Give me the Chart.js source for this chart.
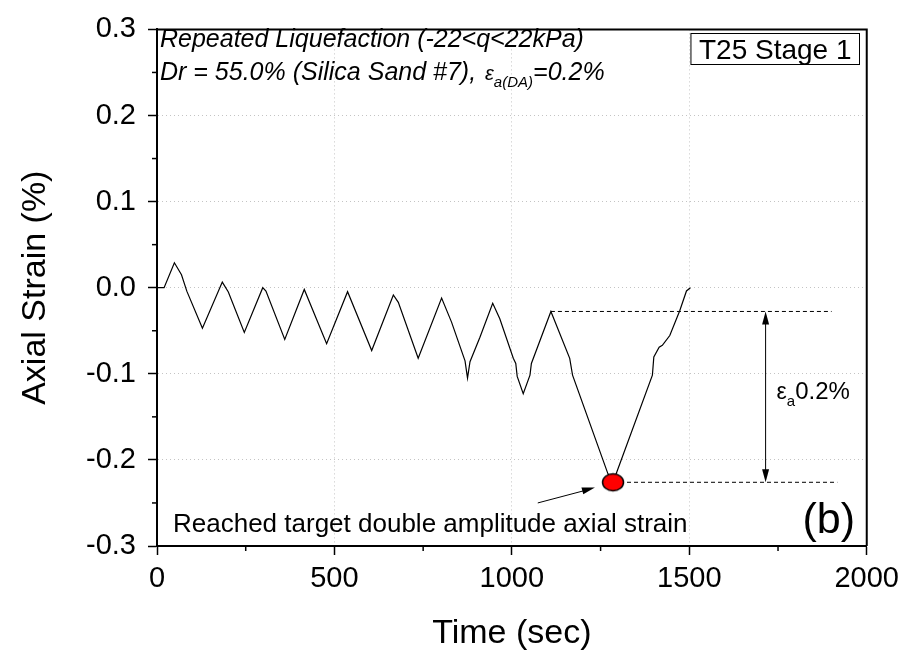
<!DOCTYPE html>
<html>
<head>
<meta charset="utf-8">
<title>Axial strain vs time</title>
<script src="https://cdn.jsdelivr.net/npm/chart.js@4.4.1/dist/chart.umd.min.js"></script>
<style>
    html, body { margin: 0; padding: 0; background: #ffffff; }
    #wrap { width: 906px; height: 654px; }
</style>
</head>
<body>
<div id="wrap"><canvas id="strainChart" width="906" height="654"></canvas></div>
<script>
// Axial strain record (time in sec, strain in %)
const timeSec = [0, 20, 49, 69, 84, 128, 184, 201, 246, 298, 307, 360, 415, 478, 537, 605,
    666, 680, 736, 802, 830, 868, 875, 882, 910, 946, 966, 1004, 1011, 1015, 1032, 1051,
    1055, 1110, 1163, 1171, 1271, 1285, 1297, 1396, 1400, 1415, 1424, 1445, 1473, 1492, 1503];
const axialStrain = [0, 0, 0.029, 0.015, -0.004, -0.047, 0.0065, -0.005, -0.052, 0.0, -0.004, -0.060,
    -0.002, -0.065, -0.0046, -0.073, -0.0084, -0.017, -0.082, -0.012, -0.040, -0.085, -0.105, -0.086,
    -0.0575, -0.018, -0.036, -0.082, -0.088, -0.103, -0.123, -0.1015, -0.088, -0.0276, -0.082, -0.1015,
    -0.2165, -0.226, -0.2126, -0.1015, -0.0805, -0.069, -0.067, -0.0556, -0.0268, -0.0038, 0.0];

// target point and the two dashed reference levels
const targetPoint = [1285, -0.226];
const upperRefX = [1110, 1901];
const upperRefY = -0.0276;
const lowerRefX = [1285, 1917];
const lowerRefY = -0.226;
const spanArrowX = 1715;
const noteArrowFrom = [1073, -0.250];
const noteArrowTo = [1234, -0.232];

const xTicks = [0, 500, 1000, 1500, 2000];
const yTicks = [-0.3, -0.2, -0.1, 0.0, 0.1, 0.2, 0.3];
const xMinorTicks = [250, 750, 1250, 1750];
const yMinorTicks = [-0.25, -0.15, -0.05, 0.05, 0.15, 0.25];

const FONT = '"Liberation Sans", Arial, sans-serif';
Chart.defaults.font.family = FONT;
Chart.defaults.color = '#000';

// red elliptical marker
function makeDot() {
    const c = document.createElement('canvas');
    c.width = 26; c.height = 22;
    const g = c.getContext('2d');
    g.beginPath();
    g.ellipse(13, 11, 10.5, 8.5, 0, 0, Math.PI * 2);
    g.fillStyle = '#ff0000';
    g.fill();
    g.lineWidth = 1.5;
    g.strokeStyle = '#000';
    g.stroke();
    return c;
}

function arrowHead(ctx, x0, y0, x1, y1, len, half) {
    const a = Math.atan2(y1 - y0, x1 - x0);
    ctx.beginPath();
    ctx.moveTo(x1, y1);
    ctx.lineTo(x1 - len * Math.cos(a) + half * Math.sin(a), y1 - len * Math.sin(a) - half * Math.cos(a));
    ctx.lineTo(x1 - len * Math.cos(a) - half * Math.sin(a), y1 - len * Math.sin(a) + half * Math.cos(a));
    ctx.closePath();
    ctx.fill();
}

const decorations = {
    id: 'decorations',
    afterDraw(chart) {
        const ctx = chart.ctx;
        const xs = chart.scales.x, ys = chart.scales.y;
        const area = chart.chartArea;
        ctx.save();
        ctx.strokeStyle = '#000';
        ctx.fillStyle = '#000';

        // frame top / right
        ctx.lineWidth = 2;
        ctx.beginPath();
        ctx.moveTo(area.left, area.top);
        ctx.lineTo(area.right, area.top);
        ctx.lineTo(area.right, area.bottom);
        ctx.stroke();

        // minor ticks
        ctx.lineWidth = 1.5;
        xMinorTicks.forEach(function(v) {
            const px = xs.getPixelForValue(v);
            ctx.beginPath();
            ctx.moveTo(px, area.bottom);
            ctx.lineTo(px, area.bottom + 5);
            ctx.stroke();
        });
        yMinorTicks.forEach(function(v) {
            const py = ys.getPixelForValue(v);
            ctx.beginPath();
            ctx.moveTo(area.left, py);
            ctx.lineTo(area.left - 5, py);
            ctx.stroke();
        });

        // double arrow for the strain span
        const ax = xs.getPixelForValue(spanArrowX);
        const ay0 = ys.getPixelForValue(upperRefY);
        const ay1 = ys.getPixelForValue(lowerRefY);
        ctx.lineWidth = 1;
        ctx.beginPath();
        ctx.moveTo(ax, ay0 + 4);
        ctx.lineTo(ax, ay1 - 4);
        ctx.stroke();
        arrowHead(ctx, ax, ay1, ax, ay0, 13, 3.5);
        arrowHead(ctx, ax, ay0, ax, ay1, 13, 3.5);

        // note arrow pointing at the red dot
        const nx0 = xs.getPixelForValue(noteArrowFrom[0]), ny0 = ys.getPixelForValue(noteArrowFrom[1]);
        const nx1 = xs.getPixelForValue(noteArrowTo[0]), ny1 = ys.getPixelForValue(noteArrowTo[1]);
        ctx.beginPath();
        ctx.moveTo(nx0, ny0);
        ctx.lineTo(nx1 - 8, ny1 + 2.5);
        ctx.stroke();
        arrowHead(ctx, nx0, ny0, nx1, ny1, 13, 3.5);

        // eps_a 0.2% label
        ctx.textBaseline = 'alphabetic';
        ctx.textAlign = 'left';
        ctx.font = '23px ' + FONT;
        ctx.fillText('\u03b5', ax + 11, 399);
        let w = ctx.measureText('\u03b5').width;
        ctx.font = '15px ' + FONT;
        ctx.fillText('a', ax + 11 + w, 406);
        w += ctx.measureText('a').width;
        ctx.font = '24px ' + FONT;
        ctx.fillText('0.2%', ax + 11 + w, 399);

        // note text and panel letter
        ctx.font = '26px ' + FONT;
        ctx.fillText('Reached target double amplitude axial strain', 173, 532);
        ctx.font = '43px ' + FONT;
        ctx.textAlign = 'right';
        ctx.fillText('(b)', 855, 533);

        // test conditions
        ctx.textAlign = 'left';
        ctx.font = 'italic 25px ' + FONT;
        ctx.fillText('Repeated Liquefaction (-22<q<22kPa)', 160, 47);
        let x = 160;
        const part1 = 'Dr = 55.0% (Silica Sand #7), ';
        ctx.fillText(part1, x, 80);
        x += ctx.measureText(part1).width;
        ctx.font = 'italic 20px ' + FONT;
        ctx.fillText('\u03b5', x + 2, 80);
        x += ctx.measureText('\u03b5').width + 2;
        ctx.font = 'italic 15px ' + FONT;
        ctx.fillText('a(DA)', x, 87);
        x += ctx.measureText('a(DA)').width;
        ctx.font = 'italic 25px ' + FONT;
        ctx.fillText('=0.2%', x, 80);

        // specimen box
        ctx.font = '28px ' + FONT;
        const label = 'T25 Stage 1';
        const lw = ctx.measureText(label).width;
        ctx.lineWidth = 1;
        ctx.strokeRect(859.5 - lw - 16, 33.5, lw + 16, 31);
        ctx.fillText(label, 859.5 - lw - 8, 59);
        ctx.restore();
    }
};

const strainPoints = timeSec.map(function(t, i) { return { x: t, y: axialStrain[i] }; });

new Chart(document.getElementById('strainChart').getContext('2d'), {
    type: 'line',
    data: {
        datasets: [
            {
                label: 'target',
                data: [{ x: targetPoint[0], y: targetPoint[1] }],
                showLine: false,
                pointStyle: makeDot()
            },
            {
                label: 'strain',
                data: strainPoints,
                borderColor: '#000',
                borderWidth: 1.2,
                pointRadius: 0,
                tension: 0,
                fill: false
            },
            {
                label: 'upper',
                data: upperRefX.map(function(v) { return { x: v, y: upperRefY }; }),
                borderColor: '#000',
                borderWidth: 1,
                borderDash: [4, 3],
                pointRadius: 0
            },
            {
                label: 'lower',
                data: lowerRefX.map(function(v) { return { x: v, y: lowerRefY }; }),
                borderColor: '#000',
                borderWidth: 1,
                borderDash: [4, 3],
                pointRadius: 0
            }
        ]
    },
    options: {
        responsive: false,
        animation: false,
        events: [],
        layout: { padding: { left: 15, top: 24, right: 39, bottom: 0 } },
        plugins: { legend: { display: false }, tooltip: { enabled: false } },
        scales: {
            x: {
                type: 'linear',
                min: 0,
                max: 2000,
                afterBuildTicks: function(scale) { scale.ticks = xTicks.map(function(v) { return { value: v }; }); },
                afterFit: function(scale) { scale.height = 108; },
                ticks: {
                    font: { size: 29 }, padding: 7, maxRotation: 0, color: '#000',
                    callback: function(v) { return String(v); }
                },
                grid: { color: '#c4c4c4', lineWidth: 1, tickColor: '#000', tickWidth: 1.5, tickLength: 9 },
                border: { display: true, color: '#000', width: 2, dash: [1, 3] },
                title: { display: true, text: 'Time (sec)', font: { size: 34 }, padding: 0, color: '#000' }
            },
            y: {
                type: 'linear',
                min: -0.3,
                max: 0.3,
                afterBuildTicks: function(scale) { scale.ticks = yTicks.map(function(v) { return { value: v }; }); },
                afterFit: function(scale) { scale.width = 142; },
                ticks: {
                    font: { size: 29 }, padding: 12, color: '#000',
                    callback: function(v) { return Number(v).toFixed(1); }
                },
                grid: { color: '#c4c4c4', lineWidth: 1, tickColor: '#000', tickWidth: 1.5, tickLength: 9 },
                border: { display: true, color: '#000', width: 2, dash: [1, 3] },
                title: { display: true, text: 'Axial Strain (%)', font: { size: 34 }, padding: 0, color: '#000' }
            }
        }
    },
    plugins: [decorations]
});
</script>
</body>
</html>
